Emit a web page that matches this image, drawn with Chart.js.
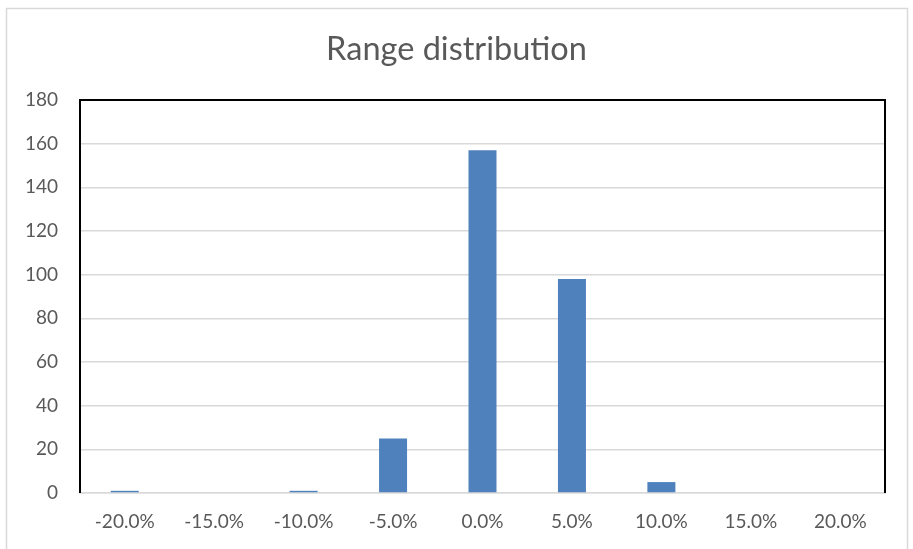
<!DOCTYPE html>
<html>
<head>
<meta charset="utf-8">
<script src="https://cdn.jsdelivr.net/npm/chart.js@4/dist/chart.umd.min.js"></script>
<style>
  html, body { margin: 0; padding: 0; background: #ffffff; }
  #wrap { position: relative; width: 913px; height: 549px; }
</style>
</head>
<body>
<div id="wrap"><canvas id="c" width="913" height="549"></canvas></div>
<script>
const chartTitle = "Range distribution";
const categories = ["-20.0%", "-15.0%", "-10.0%", "-5.0%", "0.0%", "5.0%", "10.0%", "15.0%", "20.0%"];
const counts = [1, 0, 1, 25, 157, 98, 5, 0, 0];
const yTicks = [0, 20, 40, 60, 80, 100, 120, 140, 160, 180];

const frameAndBorder = {
  id: 'frameAndBorder',
  beforeDraw(chart) {
    const ctx = chart.ctx;
    ctx.save();
    ctx.fillStyle = '#ffffff';
    ctx.fillRect(0, 0, chart.width, chart.height);
    ctx.strokeStyle = '#d9d9d9';
    ctx.lineWidth = 1.5;
    ctx.strokeRect(6.5, 8.5, 901, 600);
    ctx.restore();
  },
  afterDatasetsDraw(chart) {
    const { ctx, chartArea: a } = chart;
    ctx.save();
    ctx.strokeStyle = '#000000';
    ctx.lineWidth = 2;
    ctx.beginPath();
    ctx.moveTo(a.left, a.bottom);
    ctx.lineTo(a.left, a.top);
    ctx.lineTo(a.right, a.top);
    ctx.lineTo(a.right, a.bottom);
    ctx.stroke();
    ctx.restore();
  }
};

new Chart(document.getElementById('c'), {
  type: 'bar',
  data: {
    labels: categories,
    datasets: [{
      data: counts,
      backgroundColor: '#4f81bd',
      borderWidth: 0,
      categoryPercentage: 1.0,
      barPercentage: 0.313
    }]
  },
  options: {
    responsive: false,
    animation: false,
    layout: { padding: { left: 0, right: 0, top: 0, bottom: 0 } },
    plugins: {
      legend: { display: false },
      tooltip: { enabled: false },
      title: {
        display: true,
        text: chartTitle,
        color: '#595959',
        font: { family: 'Lato', size: 32.5, weight: 'normal' },
        padding: { top: 30, bottom: 31 }
      }
    },
    scales: {
      x: {
        grid: { display: false, drawTicks: false },
        border: { display: true, color: '#d9d9d9', width: 1.5 },
        ticks: {
          color: '#595959',
          font: { family: 'Lato', size: 19 },
          padding: 17,
          maxRotation: 0,
          autoSkip: false
        },
        afterFit(s) { s.height = 56; }
      },
      y: {
        min: 0,
        max: 180,
        afterBuildTicks(s) { s.ticks = yTicks.map(v => ({ value: v })); },
        grid: { color: '#d9d9d9', lineWidth: 1.5, drawTicks: false },
        border: { display: false },
        ticks: {
          color: '#595959',
          font: { family: 'Lato', size: 19 },
          padding: 22
        },
        afterFit(s) { s.width = 80; }
      },
      yRightSpace: {
        type: 'linear',
        position: 'right',
        display: true,
        min: 0,
        max: 180,
        grid: { display: false, drawTicks: false },
        border: { display: false },
        ticks: { display: false },
        afterFit(s) { s.width = 28; }
      }
    }
  },
  plugins: [frameAndBorder]
});
</script>
</body>
</html>
